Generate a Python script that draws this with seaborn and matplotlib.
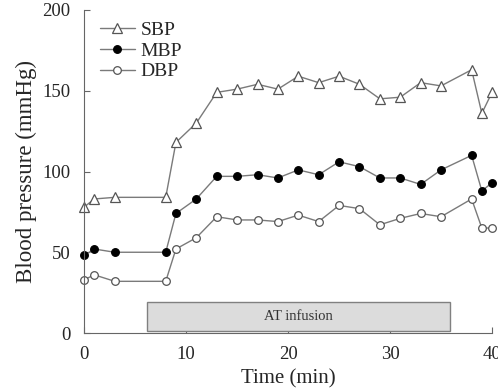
import matplotlib
matplotlib.use("Agg")
import matplotlib.pyplot as plt
import seaborn as sns
import pandas as pd
from matplotlib.patches import Rectangle

# temps (min)
time = [0, 1, 3, 8, 9, 11, 13, 15, 17, 19, 21, 23, 25, 27, 29, 31, 33, 35, 38, 39, 40]
sbp = [78, 83, 84, 84, 118, 130, 149, 151, 154, 151, 159, 155, 159, 154, 145, 146, 155, 153, 163, 136, 149]
mbp = [48, 52, 50, 50, 74, 83, 97, 97, 98, 96, 101, 98, 106, 103, 96, 96, 92, 101, 110, 88, 93]
dbp = [33, 36, 32, 32, 52, 59, 72, 70, 70, 69, 73, 69, 79, 77, 67, 71, 74, 72, 83, 65, 65]

infusion_start, infusion_end = 6.2, 35.9
infusion_label = "AT infusion"

df = pd.DataFrame({"time": time, "SBP": sbp, "MBP": mbp, "DBP": dbp})

sns.set_style("ticks")
plt.rcParams["font.family"] = ["Liberation Serif", "DejaVu Serif"]

fig = plt.figure(figsize=(4.98, 3.92), dpi=100)
ax = fig.add_axes([0.169, 0.1505, 0.819, 0.824])

line_col = "#7a7a7a"
styles = {
    "SBP": dict(marker="^", markerfacecolor="white", markeredgecolor="#555555", markersize=6.5),
    "MBP": dict(marker="o", markerfacecolor="black", markeredgecolor="black", markersize=5.5),
    "DBP": dict(marker="o", markerfacecolor="white", markeredgecolor="#555555", markersize=5.5),
}
for name in ["SBP", "MBP", "DBP"]:
    sns.lineplot(data=df, x="time", y=name, ax=ax, color=line_col, linewidth=1,
                 label=name, clip_on=False, markeredgewidth=0.9, **styles[name])

# barre de perfusion
ax.add_patch(Rectangle((infusion_start, 1), infusion_end - infusion_start, 18,
                       facecolor="#dcdcdc", edgecolor="#808080", linewidth=1))
ax.text((infusion_start + infusion_end) / 2, 10, infusion_label, ha="center", va="center",
        fontsize=10.5, color="#333333")

ax.set_xlim(0, 40)
ax.set_ylim(0, 200)
ax.set_xticks([0, 10, 20, 30, 40])
ax.set_yticks([0, 50, 100, 150, 200])
ax.tick_params(direction="in", length=4, color="#666666", labelsize=13.5)
ax.tick_params(axis="x", pad=9)
ax.tick_params(axis="y", pad=10)
for s in ["left", "bottom"]:
    ax.spines[s].set_color("#666666")
sns.despine(ax=ax)

ax.set_xlabel("Time (min)", fontsize=15, labelpad=5)
ax.set_ylabel("Blood pressure (mmHg)", fontsize=16.5, labelpad=4)

leg = ax.legend(loc="upper left", frameon=False, fontsize=14, handlelength=1.8,
                handletextpad=0.3, labelspacing=0.15, borderaxespad=0.2,
                bbox_to_anchor=(0.01, 1.0))

fig.savefig("out.png", dpi=100)
